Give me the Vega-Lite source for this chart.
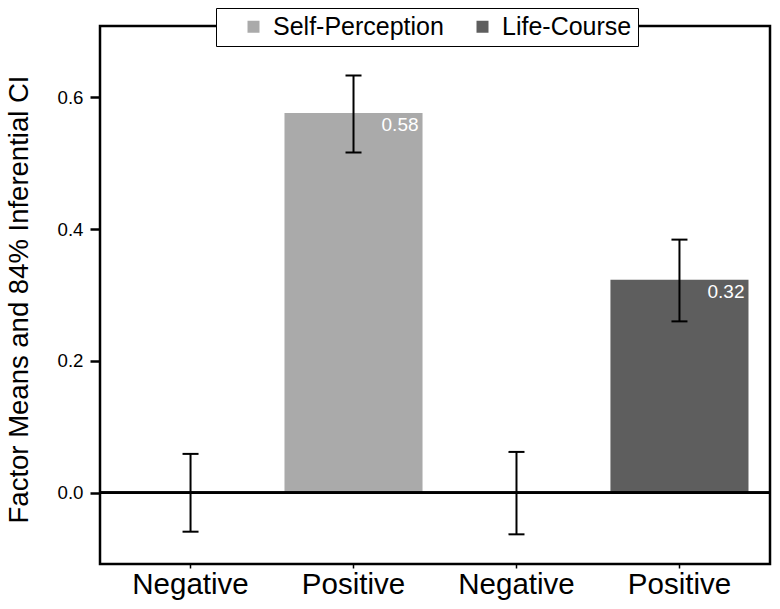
{
  "$schema": "https://vega.github.io/schema/vega-lite/v6.json",
  "width": 670,
  "height": 538,
  "autosize": {"type": "none"},
  "padding": {"left": 100, "top": 26, "right": 10, "bottom": 45},
  "background": "white",
  "config": {
    "font": "Liberation Sans",
    "view": {"stroke": "black", "strokeWidth": 2.5}
  },
  "data": {
    "values": [
      {"key": "SP|Negative", "group": "Self-Perception", "mean": 0, "lo": -0.059, "hi": 0.059, "label": ""},
      {"key": "SP|Positive", "group": "Self-Perception", "mean": 0.576, "lo": 0.516, "hi": 0.633, "label": "0.58"},
      {"key": "LC|Negative", "group": "Life-Course", "mean": 0, "lo": -0.063, "hi": 0.062, "label": ""},
      {"key": "LC|Positive", "group": "Life-Course", "mean": 0.323, "lo": 0.26, "hi": 0.384, "label": "0.32"}
    ]
  },
  "layer": [
    {
      "mark": {"type": "bar"},
      "encoding": {
        "x": {
          "field": "key",
          "type": "nominal",
          "sort": null,
          "scale": {"paddingInner": 0.153, "paddingOuter": 0.132},
          "axis": {
            "title": null,
            "labelExpr": "split(datum.label, '|')[1]",
            "labelAngle": 0,
            "labelFontSize": 29.5,
            "labelColor": "black",
            "labelPadding": 2,
            "domain": false,
            "tickSize": 4,
            "tickColor": "black",
            "tickWidth": 1.5,
            "grid": false
          }
        },
        "y": {
          "field": "mean",
          "type": "quantitative",
          "scale": {"domain": [-0.108, 0.708], "nice": false, "zero": false},
          "axis": {
            "title": "Factor Means and 84% Inferential CI",
            "titleFontSize": 27.5,
            "titleFontWeight": "normal",
            "titleColor": "black",
            "titleAngle": -90,
            "titleAlign": "center",
            "titleBaseline": "alphabetic",
            "titleX": -73,
            "titleY": 273,
            "values": [0, 0.2, 0.4, 0.6],
            "format": ".1f",
            "labelFontSize": 18.7,
            "labelColor": "black",
            "labelPadding": 7,
            "tickSize": 10,
            "tickWidth": 2.5,
            "tickColor": "black",
            "domain": false,
            "grid": false
          }
        },
        "color": {
          "field": "group",
          "type": "nominal",
          "scale": {"domain": ["Self-Perception", "Life-Course"], "range": ["#aaaaaa", "#5e5e5e"]},
          "legend": {
            "title": null,
            "orient": "none",
            "direction": "horizontal",
            "legendX": 116,
            "legendY": -18,
            "fillColor": "white",
            "strokeColor": "black",
            "padding": 6,
            "symbolType": "square",
            "symbolSize": 144,
            "symbolStrokeWidth": 0,
            "symbolOffset": 19,
            "columnPadding": 7,
            "labelOffset": 7,
            "labelFontSize": 25,
            "labelColor": "black",
            "labelLimit": 400
          }
        }
      }
    },
    {
      "mark": {"type": "rule", "color": "black", "strokeWidth": 2.5},
      "encoding": {"y": {"datum": 0, "type": "quantitative"}}
    },
    {
      "mark": {"type": "rule", "color": "black", "strokeWidth": 2},
      "encoding": {
        "x": {"field": "key", "type": "nominal", "sort": null},
        "y": {"field": "lo", "type": "quantitative"},
        "y2": {"field": "hi"}
      }
    },
    {
      "mark": {"type": "tick", "color": "black", "size": 16, "thickness": 2, "opacity": 1},
      "encoding": {
        "x": {"field": "key", "type": "nominal", "sort": null},
        "y": {"field": "lo", "type": "quantitative"}
      }
    },
    {
      "mark": {"type": "tick", "color": "black", "size": 16, "thickness": 2, "opacity": 1},
      "encoding": {
        "x": {"field": "key", "type": "nominal", "sort": null},
        "y": {"field": "hi", "type": "quantitative"}
      }
    },
    {
      "transform": [{"filter": "datum.label != ''"}],
      "mark": {"type": "text", "align": "right", "baseline": "top", "dx": -4, "dy": 3, "fontSize": 19, "color": "white"},
      "encoding": {
        "x": {"field": "key", "type": "nominal", "sort": null, "bandPosition": 1},
        "y": {"field": "mean", "type": "quantitative"},
        "text": {"field": "label"}
      }
    }
  ]
}
